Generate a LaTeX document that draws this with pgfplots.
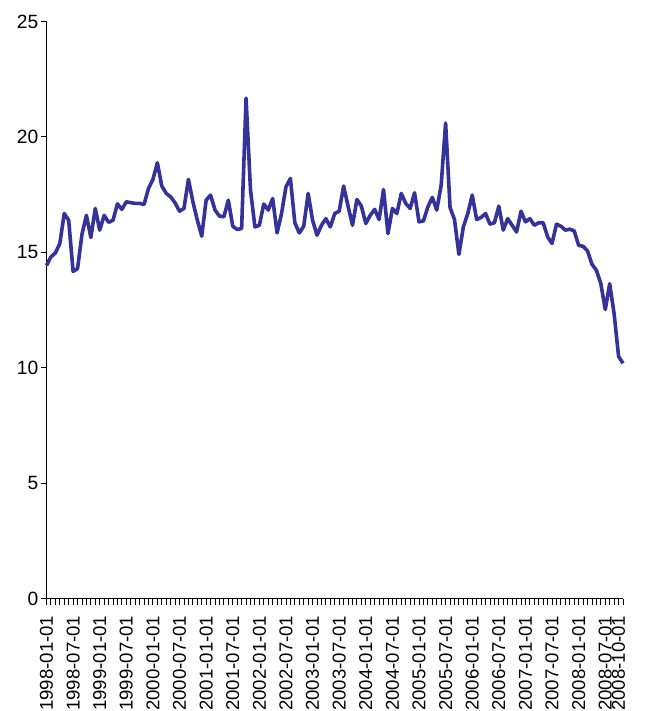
\documentclass[border=0pt]{standalone}
\usepackage{pgfplots}
\pgfplotsset{compat=1.18}
\usepackage{fontspec}
\setmainfont{Liberation Sans}
\definecolor{linec}{RGB}{51,51,153}
\begin{document}
\begin{tikzpicture}
\begin{axis}[
  at={(0,0)}, anchor=south west,
  width=576.5bp, height=577bp, scale only axis,
  xmin=0, xmax=130, ymin=0, ymax=25,
  axis x line*=bottom, axis y line*=left,
  axis line style={black, line width=0.9bp},
  tick align=outside,
  tick style={black, line width=0.9bp},
  major tick length=6bp, minor tick length=6bp,
  xtick={0,6,12,18,24,30,36,42,48,54,60,66,72,78,84,90,96,102,108,114,120,126,129},
  xticklabels={1998-01-01,1998-07-01,1999-01-01,1999-07-01,2000-01-01,2000-07-01,2001-01-01,2001-07-01,2002-01-01,2002-07-01,2003-01-01,2003-07-01,2004-01-01,2004-07-01,2005-01-01,2005-07-01,2006-01-01,2006-07-01,2007-01-01,2007-07-01,2008-01-01,2008-07-01,2008-10-01},
  minor xtick={0,1,...,130},
  ytick={0,5,10,15,20,25},
  /pgf/number format/assume math mode=true,
  xticklabel shift=9bp,
  xticklabel style={rotate=90, anchor=east, font=\fontsize{18.6bp}{20bp}\selectfont, inner sep=2bp},
  yticklabel style={font=\fontsize{19.2bp}{21bp}\selectfont, inner sep=2bp},
  clip=false,
]
\addplot[linec, line width=3.6bp, line join=round, no marks] coordinates {
(0,14.43)(1,14.8)(2,14.97)(3,15.38)(4,16.68)(5,16.39)(6,14.17)(7,14.29)(8,15.78)(9,16.6)
(10,15.64)(11,16.9)(12,15.96)(13,16.6)(14,16.3)(15,16.39)(16,17.1)(17,16.86)(18,17.19)(19,17.15)
(20,17.12)(21,17.12)(22,17.07)(23,17.77)(24,18.16)(25,18.88)(26,17.87)(27,17.55)(28,17.4)(29,17.14)
(30,16.78)(31,16.9)(32,18.16)(33,17.2)(34,16.4)(35,15.7)(36,17.26)(37,17.48)(38,16.83)(39,16.57)
(40,16.54)(41,17.26)(42,16.13)(43,15.99)(44,16.03)(45,21.68)(46,17.7)(47,16.1)(48,16.17)(49,17.09)
(50,16.83)(51,17.33)(52,15.84)(53,16.68)(54,17.84)(55,18.2)(56,16.28)(57,15.84)(58,16.13)(59,17.55)
(60,16.39)(61,15.74)(62,16.17)(63,16.46)(64,16.1)(65,16.68)(66,16.78)(67,17.87)(68,17.0)(69,16.17)
(70,17.29)(71,17.0)(72,16.25)(73,16.6)(74,16.86)(75,16.42)(76,17.72)(77,15.81)(78,16.9)(79,16.68)
(80,17.55)(81,17.12)(82,16.9)(83,17.58)(84,16.32)(85,16.36)(86,16.97)(87,17.38)(88,16.83)(89,17.91)
(90,20.6)(91,16.94)(92,16.42)(93,14.91)(94,16.1)(95,16.68)(96,17.48)(97,16.42)(98,16.51)(99,16.68)
(100,16.22)(101,16.28)(102,17.0)(103,15.96)(104,16.46)(105,16.17)(106,15.88)(107,16.78)(108,16.32)(109,16.46)
(110,16.17)(111,16.28)(112,16.28)(113,15.67)(114,15.38)(115,16.22)(116,16.13)(117,15.96)(118,16.0)(119,15.93)
(120,15.3)(121,15.26)(122,15.06)(123,14.48)(124,14.22)(125,13.64)(126,12.52)(127,13.64)(128,12.33)(129,10.49)
(130,10.19)
};
\end{axis}
\pgfresetboundingbox
\path[use as bounding box] (-46.5bp,-112.5bp) rectangle (604.5bp,598.5bp);
\end{tikzpicture}
\end{document}
